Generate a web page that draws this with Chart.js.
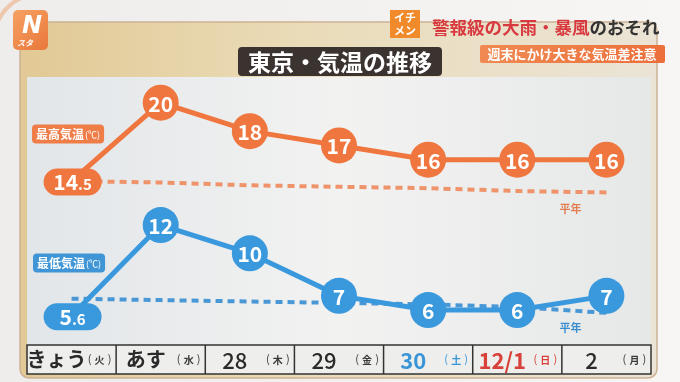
<!DOCTYPE html>
<html><head><meta charset="utf-8">
<script src="https://cdn.jsdelivr.net/npm/chart.js@4.4.1/dist/chart.umd.min.js"></script>
<style>html,body{margin:0;padding:0;background:#efeeec;overflow:hidden}</style>
</head><body>
<canvas id="c" width="680" height="382"></canvas>
<script>
// ---- data ----
const categories = ['きょう', 'あす', '28', '29', '30', '12/1', '2'];
const weekdays   = ['火', '水', '木', '金', '土', '日', '月'];
const highTemps  = [14.5, 20, 18, 17, 16, 16, 16];
const lowTemps   = [5.6, 12, 10, 7, 6, 6, 7];
const highNormal = [14.5, 14.4, 14.2, 14.1, 14.0, 13.8, 13.7];
const lowNormal  = [6.8, 6.7, 6.6, 6.5, 6.4, 6.2, 5.8];
const titleText  = '東京・気温の推移';
const highTag = '最高気温', lowTag = '最低気温', unitTag = '(℃)', normalTag = '平年';
const headRed = '警報級の大雨・暴風', headDark = 'のおそれ';
const subHead = '週末にかけ大きな気温差注意';

// ---- styles ----
const ORANGE = '#f0763f', BLUE = '#3a98dd';
const FONT = '"Noto Sans CJK JP", "Noto Sans", sans-serif';
const tickColor = i => (i === 4 ? '#3a95d6' : i === 5 ? '#d8403a' : '#2a2a2a');

function rr(ctx, x, y, w, h, r) {
  ctx.beginPath();
  ctx.moveTo(x + r, y);
  ctx.arcTo(x + w, y, x + w, y + h, r);
  ctx.arcTo(x + w, y + h, x, y + h, r);
  ctx.arcTo(x, y + h, x, y, r);
  ctx.arcTo(x, y, x + w, y, r);
  ctx.closePath();
}

const decor = {
  id: 'decor',
  beforeDraw(chart) {
    const { ctx, chartArea: a } = chart;
    const xs = chart.scales.x;
    ctx.save();
    let g = ctx.createLinearGradient(0, 0, 680, 0);
    g.addColorStop(0, '#eeedeb'); g.addColorStop(0.6, '#f3f2f0'); g.addColorStop(1, '#f7f6f4');
    ctx.fillStyle = g; ctx.fillRect(0, 0, 680, 382);
    ctx.strokeStyle = 'rgba(240,150,100,0.45)'; ctx.lineWidth = 4;
    ctx.beginPath(); ctx.arc(40, 40, 46, Math.PI * 1.05, Math.PI * 1.45); ctx.stroke();
    const px = a.left - 7, py = 22, pw = a.right - a.left + 13, ph = 378 - 22;
    rr(ctx, px, py, pw, ph, 9);
    g = ctx.createLinearGradient(px, 0, px + pw, 0);
    g.addColorStop(0, '#e2c995'); g.addColorStop(0.45, '#eadcb9'); g.addColorStop(1, '#ebe4d6');
    ctx.fillStyle = g; ctx.fill();
    ctx.strokeStyle = '#cdb195'; ctx.lineWidth = 1.5; ctx.stroke();
    g = ctx.createLinearGradient(a.left, 0, a.right, 0);
    g.addColorStop(0, '#e2e6e9'); g.addColorStop(0.5, '#f2f2f1'); g.addColorStop(1, '#e6e8e8');
    ctx.fillStyle = g; ctx.fillRect(a.left, a.top, a.right - a.left, a.bottom - a.top);
    const tb = a.bottom + 29;
    ctx.fillStyle = '#eeeeec';
    ctx.fillRect(a.left, a.bottom, a.right - a.left, tb - a.bottom);
    ctx.strokeStyle = '#333'; ctx.lineWidth = 1.5;
    ctx.strokeRect(a.left, a.bottom, a.right - a.left, tb - a.bottom);
    const half = (xs.getPixelForValue(1) - xs.getPixelForValue(0)) / 2;
    ctx.beginPath();
    for (let i = 1; i < categories.length; i++) {
      const x = xs.getPixelForValue(i) - half;
      ctx.moveTo(x, a.bottom); ctx.lineTo(x, tb);
    }
    ctx.stroke();
    ctx.textBaseline = 'middle'; ctx.textAlign = 'center';
    weekdays.forEach((w, i) => {
      const x = xs.getPixelForValue(i) + 28;
      const c = i === 4 ? '#3a95d6' : i === 5 ? '#d8403a' : '#3a3a3a';
      ctx.fillStyle = c;
      ctx.font = 'bold 10px ' + FONT;
      ctx.fillText(w, x, a.bottom + 15);
      ctx.font = '11px ' + FONT;
      ctx.fillText('(', x - 10, a.bottom + 14);
      ctx.fillText(')', x + 10, a.bottom + 14);
    });
    ctx.restore();
  },
  afterDatasetsDraw(chart) {
    const { ctx, chartArea: a } = chart;
    ctx.save();
    ctx.textAlign = 'center'; ctx.textBaseline = 'middle';
    const drawSeries = (idx, vals, color) => {
      const meta = chart.getDatasetMeta(idx);
      meta.data.forEach((p, i) => {
        const { x, y } = p;
        if (i === 0) {
          const w = 58, h = 27;
          rr(ctx, x - w / 2 + 1, y - h / 2 + 1, w, h, h / 2);
          ctx.fillStyle = color; ctx.fill();
          const s = String(vals[i]);
          const [ip, dp] = s.split('.');
          ctx.font = 'bold 21px ' + FONT;
          const w1 = ctx.measureText(ip).width;
          ctx.font = 'bold 15px ' + FONT;
          const w2 = ctx.measureText('.' + dp).width;
          let sx = x + 1 - (w1 + w2) / 2;
          ctx.fillStyle = '#fff'; ctx.textAlign = 'left'; ctx.textBaseline = 'alphabetic';
          ctx.font = 'bold 21px ' + FONT; ctx.fillText(ip, sx, y + 9);
          ctx.font = 'bold 15px ' + FONT; ctx.fillText('.' + dp, sx + w1, y + 9);
          ctx.textAlign = 'center'; ctx.textBaseline = 'middle';
        } else {
          ctx.fillStyle = '#fff';
          ctx.font = 'bold 21px ' + FONT;
          ctx.fillText(String(vals[i]), x, y + 1);
        }
      });
    };
    drawSeries(0, highTemps, ORANGE);
    drawSeries(1, lowTemps, BLUE);

    const hn = chart.getDatasetMeta(2).data, ln = chart.getDatasetMeta(3).data;
    ctx.font = 'bold 11px ' + FONT;
    ctx.fillStyle = '#e07f52';
    ctx.fillText(normalTag, hn[hn.length - 1].x - 36, hn[hn.length - 1].y + 16);
    ctx.fillStyle = '#3a8ed0';
    ctx.fillText(normalTag, ln[ln.length - 1].x - 36, ln[ln.length - 1].y + 15);

    const tag = (txt, x, y, color) => {
      ctx.font = 'bold 12px ' + FONT;
      const w1 = ctx.measureText(txt).width;
      ctx.font = '9px ' + FONT;
      const w2 = ctx.measureText(unitTag).width;
      const w = w1 + w2 + 9;
      rr(ctx, x, y - 9.5, w, 19, 4);
      ctx.fillStyle = color; ctx.fill();
      ctx.fillStyle = '#fff'; ctx.textAlign = 'left';
      ctx.font = 'bold 12px ' + FONT; ctx.fillText(txt, x + 4, y);
      ctx.font = '9px ' + FONT; ctx.fillText(unitTag, x + 4 + w1 + 1, y + 0.5);
      ctx.textAlign = 'center';
    };
    tag(highTag, a.left + 5, 134, '#ef7d48');
    tag(lowTag, a.left + 6, 263, '#3f95d6');
    ctx.restore();
  },
  afterDraw(chart) {
    const { ctx } = chart;
    ctx.save();
    rr(ctx, 238, 47, 204, 29, 4);
    ctx.fillStyle = '#3a3330'; ctx.fill();
    ctx.fillStyle = '#fff'; ctx.font = 'bold 23px ' + FONT;
    ctx.textAlign = 'center'; ctx.textBaseline = 'middle';
    ctx.fillText(titleText, 340, 62);

    rr(ctx, 13, 10, 35, 40, 5);
    let g = ctx.createLinearGradient(13, 10, 48, 50);
    g.addColorStop(0, '#f5a263'); g.addColorStop(1, '#e9773a');
    ctx.fillStyle = g; ctx.fill();
    ctx.fillStyle = '#fff';
    ctx.font = 'italic bold 24px "DejaVu Sans", sans-serif';
    ctx.fillText('N', 32, 27);
    ctx.font = 'italic bold 8px ' + FONT;
    ctx.fillText('スタ', 25, 43);

    ctx.fillStyle = '#f08a2a';
    ctx.fillRect(390, 10, 30, 28);
    ctx.fillStyle = '#fff'; ctx.font = 'bold 11px ' + FONT;
    ctx.fillText('イチ', 405, 18);
    ctx.fillText('メン', 405, 31);

    ctx.textAlign = 'left';
    ctx.font = 'bold 17.5px ' + FONT;
    ctx.fillStyle = '#d8393f';
    ctx.fillText(headRed, 432, 27);
    const hw = ctx.measureText(headRed).width;
    ctx.fillStyle = '#333';
    ctx.fillText(headDark, 432 + hw, 27);

    rr(ctx, 480, 45, 185, 18, 2);
    g = ctx.createLinearGradient(480, 0, 665, 0);
    g.addColorStop(0, '#f08a52'); g.addColorStop(1, '#ec6f3a');
    ctx.fillStyle = g; ctx.fill();
    ctx.fillStyle = '#fff'; ctx.font = 'bold 13px ' + FONT;
    ctx.textAlign = 'center';
    ctx.fillText(subHead, 572, 54.5);
    ctx.restore();
  }
};

new Chart(document.getElementById('c'), {
  type: 'line',
  data: {
    labels: categories,
    datasets: [
      { label: highTag, data: highTemps, yAxisID: 'y', borderColor: ORANGE, borderWidth: 5,
        pointRadius: c => (c.dataIndex === 0 ? 0 : 18), pointBackgroundColor: ORANGE, pointBorderWidth: 0,
        tension: 0, clip: false },
      { label: lowTag, data: lowTemps, yAxisID: 'y2', borderColor: BLUE, borderWidth: 5,
        pointRadius: c => (c.dataIndex === 0 ? 0 : 18), pointBackgroundColor: BLUE, pointBorderWidth: 0,
        tension: 0, clip: false },
      { label: highTag + normalTag, data: highNormal, yAxisID: 'y', borderColor: '#ee936a', borderWidth: 4,
        borderDash: [7, 5], pointRadius: 0, tension: 0 },
      { label: lowTag + normalTag, data: lowNormal, yAxisID: 'y2', borderColor: '#4a97d6', borderWidth: 4,
        borderDash: [7, 5], pointRadius: 0, tension: 0 }
    ]
  },
  options: {
    responsive: false,
    animation: false,
    events: [],
    layout: { padding: { left: 27, right: 29, top: 77, bottom: 8 } },
    plugins: { legend: { display: false }, tooltip: { enabled: false }, title: { display: false } },
    scales: {
      x: {
        type: 'category', offset: true,
        grid: { display: false, drawTicks: false },
        border: { display: false },
        ticks: {
          autoSkip: false, maxRotation: 0, padding: 2, labelOffset: -15,
          color: c => tickColor(c.index),
          font: c => ({ family: FONT, size: c.index < 2 ? 20 : 22,
                        weight: (c.index === 2 || c.index === 3 || c.index === 6) ? 500 : 'bold' })
        },
        afterFit: s => { s.height = 29; }
      },
      y:  { type: 'linear', display: false, min: 3.0, max: 21.8 },
      y2: { type: 'linear', display: false, min: 3.53, max: 22.45 }
    }
  },
  plugins: [decor]
});
</script>
</body></html>
